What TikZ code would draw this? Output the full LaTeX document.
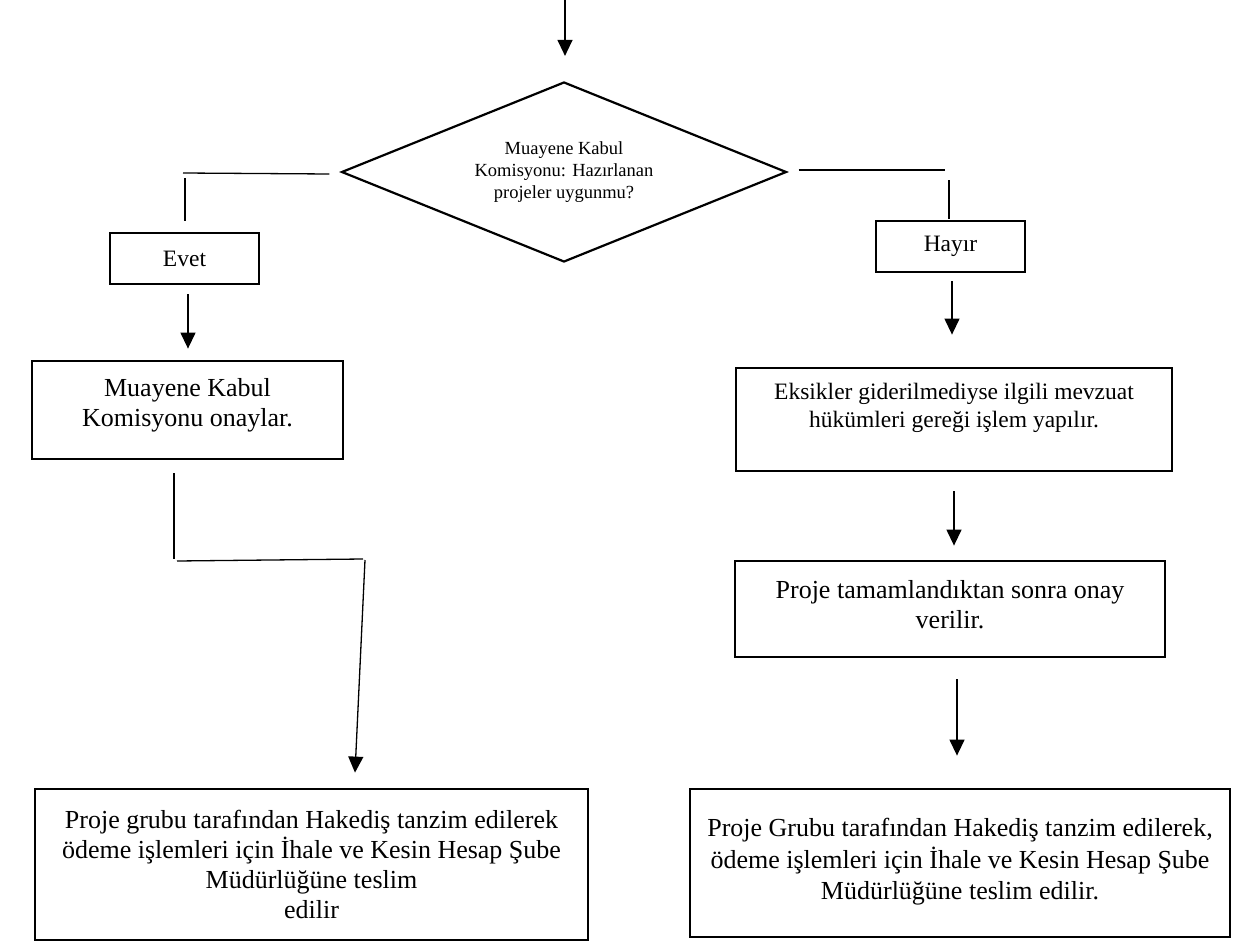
\documentclass[tikz,border=0pt]{standalone}
\usepackage{fontspec}
\setmainfont{Liberation Serif}
\usetikzlibrary{arrows.meta,shapes.geometric,calc}
\begin{document}
\begin{tikzpicture}[x=1pt,y=-1pt,
  box/.style={draw,line width=2.8pt,inner sep=0pt,align=center},
  dia/.style={diamond,draw,line width=2.2pt,inner sep=0pt,aspect=3,align=center,minimum width=445pt,minimum height=180pt,font=\fontsize{18.5}{22}\selectfont},
  big/.style={font=\fontsize{26}{30}\selectfont},
  mid/.style={font=\fontsize{23.5}{28}\selectfont},
  conn/.style={line width=1.3pt},
  arr/.style={conn,-{Triangle[width=15pt,length=16pt]}},
]
\useasboundingbox (0,0) rectangle (1256,942);

\node[dia] (q) at (564,172) {Muayene Kabul\\Komisyonu: Hazırlanan\\projeler uygunmu?};
\node[box,mid,minimum width=149pt,minimum height=51pt] (evet) at (184.5,258.5) {Evet};
\node[box,mid,minimum width=149pt,minimum height=51pt] (hayir) at (950.5,246.5) {Hayır};
\node[box,big,minimum width=311pt,minimum height=98pt] (onay) at (187.5,410) {Muayene Kabul\\Komisyonu onaylar.\\[-14pt]\mbox{}};
\node[box,mid,minimum width=436pt,minimum height=103pt] (eks) at (954,419.5) {Eksikler giderilmediyse ilgili mevzuat\\hükümleri gereği işlem yapılır.\\\mbox{}};
\node[box,big,minimum width=430pt,minimum height=96pt] (tamam) at (950,609) {Proje tamamlandıktan sonra onay\\verilir.\\[-20pt]\mbox{}};
\node[box,big,minimum width=553pt,minimum height=151pt] (bl) at (311.5,864.5) {Proje grubu tarafından Hakediş tanzim edilerek\\ödeme işlemleri için İhale ve Kesin Hesap Şube\\Müdürlüğüne teslim\\edilir};
\node[box,font=\fontsize{26}{31.5}\selectfont,minimum width=540pt,minimum height=148pt] (br) at (960,863) {Proje Grubu tarafından Hakediş tanzim edilerek,\\ödeme işlemleri için İhale ve Kesin Hesap Şube\\Müdürlüğüne teslim edilir.\\[-24pt]\mbox{}};

% top incoming arrow
\coordinate (top) at (565,0);
\draw[arr] (top) -- ($(q.north)+(1,-25)$);

% left branch (Evet)
\coordinate (l1) at ($(q.west)+(-11,2)$);
\coordinate (l2) at (183,173);
\coordinate (l3) at (185,178);
\draw[conn] (l1) -- (l2);
\draw[conn] (l3) -- ($(evet.north)+(0.5,-11)$);
\draw[arr] ($(evet.south)+(3.5,9)$) -- ($(onay.north)+(0.5,-11)$);

% right branch (Hayir)
\coordinate (r1) at ($(q.east)+(11,-2)$);
\coordinate (r2) at (945,170);
\coordinate (r3) at (949,180);
\draw[conn] (r1) -- (r2);
\draw[conn] (r3) -- ($(hayir.north)+(-1.5,-1)$);
\draw[arr] ($(hayir.south)+(1.5,8)$) -- ($(eks.north)+(-2,-32)$);
\draw[arr] ($(eks.south)+(0,19)$) -- ($(tamam.north)+(4,-14)$);
\draw[arr] ($(tamam.south)+(7,21)$) -- ($(br.north)+(-3,-32)$);

% left route from onay to bottom-left box
\coordinate (d1) at ($(onay.south)+(-13.5,13)$);
\coordinate (d2) at (174,559);
\coordinate (d3) at (177,561);
\coordinate (d4) at (363,559);
\coordinate (d5) at (365,560);
\draw[conn] (d1) -- (d2);
\draw[conn] (d3) -- (d4);
\draw[arr] (d5) -- ($(bl.north)+(43.5,-15)$);
\end{tikzpicture}
\end{document}
